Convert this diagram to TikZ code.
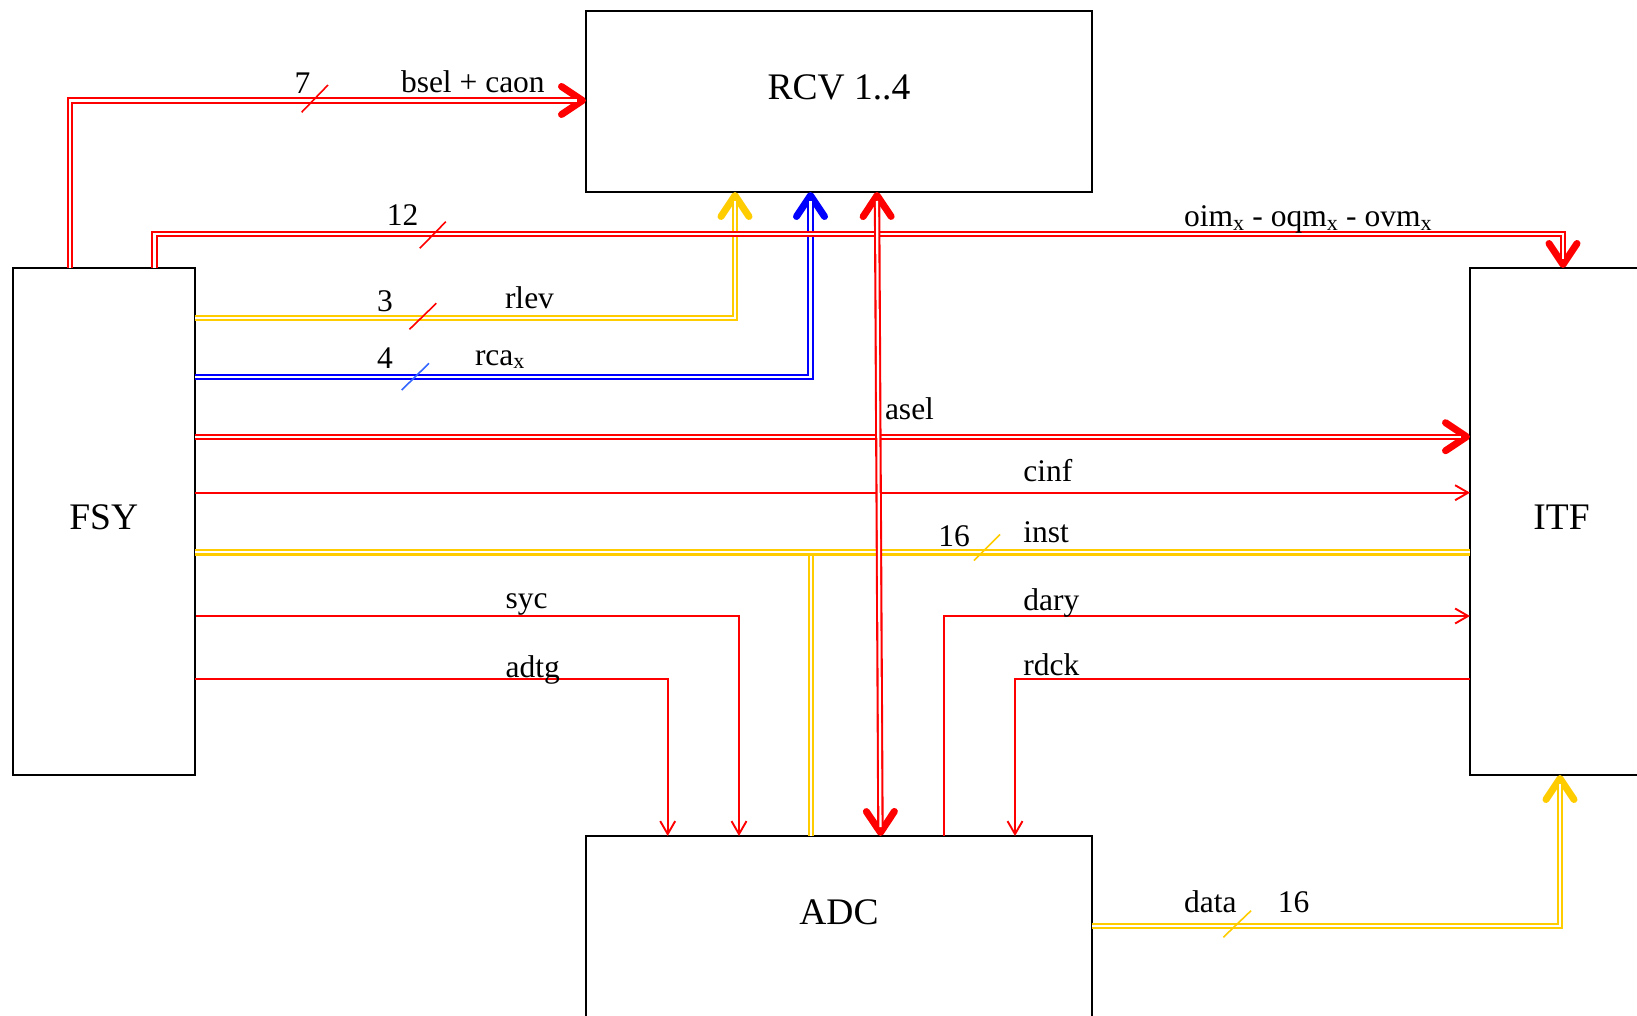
\documentclass[tikz,border=0pt]{standalone}
\usepackage{fontspec}
\setmainfont{Liberation Serif}
\usetikzlibrary{arrows.meta,calc}
\definecolor{sred}{RGB}{255,0,0}
\definecolor{syel}{RGB}{255,204,0}
\definecolor{sblu}{RGB}{0,0,255}
\definecolor{slblu}{RGB}{51,102,255}
\begin{document}
\begin{tikzpicture}[x=1pt,y=-1pt,
  box/.style={draw=black, line width=2pt, rectangle, inner sep=0pt, outer sep=0pt,
    anchor=north west, font=\fontsize{37.5}{40}\selectfont, text height=25pt},
  lbl/.style={font=\fontsize{31.5}{36}\selectfont, inner sep=0pt, outer sep=0pt},
  thinline/.style={draw=sred, line width=1.9pt},
  thinarrow/.style={thinline, -{Straight Barb[length=13pt,width=15pt]}},
  dbl/.style={draw=#1, line width=6.4pt, postaction={draw=white, line width=2.2pt, -}},
  dblend/.style={draw=#1, line width=6.4pt, -{Straight Barb[length=21pt,width=28pt,round,line width'=7pt]},
    postaction={draw=white, line width=2.2pt, -, shorten >=9pt}},
  dblboth/.style={draw=#1, line width=6.4pt,
    {Straight Barb[length=21pt,width=28pt,round,line width'=7pt]}-{Straight Barb[length=21pt,width=28pt,round,line width'=7pt]},
    postaction={draw=white, line width=2.2pt, -, shorten >=9pt, shorten <=9pt}},
  slash/.style={line width=1.6pt}
]
\useasboundingbox (0,0) rectangle (1637,1016);
\fill[white] (0,0) rectangle (1637,1016);
\clip (0,0) rectangle (1637,1016);

% blocks
\node[box, minimum width=506pt, minimum height=180.5pt, text depth=28.5pt] (RCV) at (586,11.5) {RCV 1..4};
\node[box, minimum width=506pt, minimum height=180.5pt, text depth=28.5pt] (ADC) at (586,836) {ADC};
\node[box, minimum width=182.5pt, minimum height=507pt, text depth=9.5pt] (FSY) at (12.5,268) {FSY};
\node[box, minimum width=183pt, minimum height=507pt, text depth=9.5pt] (ITF) at (1470,268) {ITF};

% connector end points on the blocks
\coordinate (bselS) at ($(FSY.north west)+(57.5,0)$);
\coordinate (bselE) at ($(RCV.north west)+(0,89)$);
\coordinate (oimS) at ($(FSY.north west)+(142,0)$);
\coordinate (oimE) at ($(ITF.north west)+(93,0)$);
\coordinate (rlevS) at ($(FSY.north east)+(0,50)$);
\coordinate (rlevE) at ($(RCV.south west)+(149,0)$);
\coordinate (rcaS) at ($(FSY.north east)+(0,108.7)$);
\coordinate (rcaE) at ($(RCV.south west)+(224.5,0)$);
\coordinate (aselS) at ($(RCV.south west)+(291,0)$);
\coordinate (aselE) at ($(ADC.north west)+(294.5,0)$);
\coordinate (bigS) at ($(FSY.north east)+(0,168.7)$);
\coordinate (cinfS) at ($(FSY.north east)+(0,224.7)$);
\coordinate (instS) at ($(FSY.north east)+(0,284.3)$);
\coordinate (instB) at ($(ADC.north west)+(225,0)$);
\coordinate (sycS) at ($(FSY.north east)+(1,348)$);
\coordinate (sycE) at ($(ADC.north west)+(153,0)$);
\coordinate (adtgS) at ($(FSY.north east)+(0,411.3)$);
\coordinate (adtgE) at ($(ADC.north west)+(81.7,0)$);
\coordinate (daryS) at ($(ADC.north west)+(358.3,0)$);
\coordinate (daryE) at ($(ITF.north west)+(0,348)$);
\coordinate (rdckS) at ($(ITF.north west)+(0,411)$);
\coordinate (rdckE) at ($(ADC.north west)+(429,0)$);
\coordinate (dataS) at ($(ADC.north east)+(0,89.7)$);
\coordinate (dataE) at ($(ITF.south west)+(90,0)$);

% thin single connectors
\draw[thinarrow] (cinfS) -- (cinfS -| ITF.west);
\draw[thinarrow] (sycS) -| (sycE);
\draw[thinarrow] (adtgS) -| (adtgE);
\draw[thinarrow] (daryS) |- (daryE);
\draw[thinarrow] (rdckS) -| (rdckE);

% double connectors
\draw[dbl=syel] (instB |- instS) -- (instB);
\draw[dbl=syel] (instS) -- (instS -| ITF.west);
\draw[dblend=syel] (rlevS) -| (rlevE);
\draw[dblend=sblu] (rcaS) -| (rcaE);
\draw[dblend=sred] (bselS) |- (bselE);
\draw[dblend=sred] (oimS) |- ($(oimE)+(0,-33.7)$) -- (oimE);
\draw[dblend=sred] (bigS) -- (bigS -| ITF.west);
\draw[dblboth=sred] (aselS) -- (aselE);
\draw[dblend=syel] (dataS) -| (dataE);

% bus width marks
\draw[slash, draw=sred] (301.6,112.3) -- (328,85);
\draw[slash, draw=sred] (419.8,248.3) -- (445.8,221.7);
\draw[slash, draw=sred] (409.5,329.3) -- (436.3,303.3);
\draw[slash, draw=slblu] (401.7,390) -- (429,363.3);
\draw[slash, draw=syel] (973.9,560.6) -- (1000,534.5);
\draw[slash, draw=syel] (1223.3,937.3) -- (1251,910.7);

% labels
\node[lbl, anchor=base] (n7) at (302.6,94) {7};
\node[lbl, anchor=base west] (Lbsel) at (401,92.5) {bsel + caon};
\node[lbl, anchor=base] (n12) at (402.7,225.5) {12};
\node[lbl, anchor=base west] (Loim) at (1184,226.7) {oim\textsubscript{x} - oqm\textsubscript{x} - ovm\textsubscript{x}};
\node[lbl, anchor=base] (n3) at (385,311.5) {3};
\node[lbl, anchor=base west] (Lrlev) at (505,308.3) {rlev};
\node[lbl, anchor=base] (n4) at (385,368) {4};
\node[lbl, anchor=base west] (Lrca) at (475,365) {rca\textsubscript{x}};
\node[lbl, anchor=base west] (Lasel) at (885,419) {asel};
\node[lbl, anchor=base west] (Lcinf) at (1023.3,481) {cinf};
\node[lbl, anchor=base] (n16a) at (954,546.5) {16};
\node[lbl, anchor=base west] (Linst) at (1023.3,542.3) {inst};
\node[lbl, anchor=base west] (Lsyc) at (505.7,608.3) {syc};
\node[lbl, anchor=base west] (Ladtg) at (505.7,677.7) {adtg};
\node[lbl, anchor=base west] (Ldary) at (1023.3,610) {dary};
\node[lbl, anchor=base west] (Lrdck) at (1023.3,675) {rdck};
\node[lbl, anchor=base west] (Ldata) at (1184,912.7) {data};
\node[lbl, anchor=base] (n16b) at (1293.5,912.7) {16};
\end{tikzpicture}
\end{document}
